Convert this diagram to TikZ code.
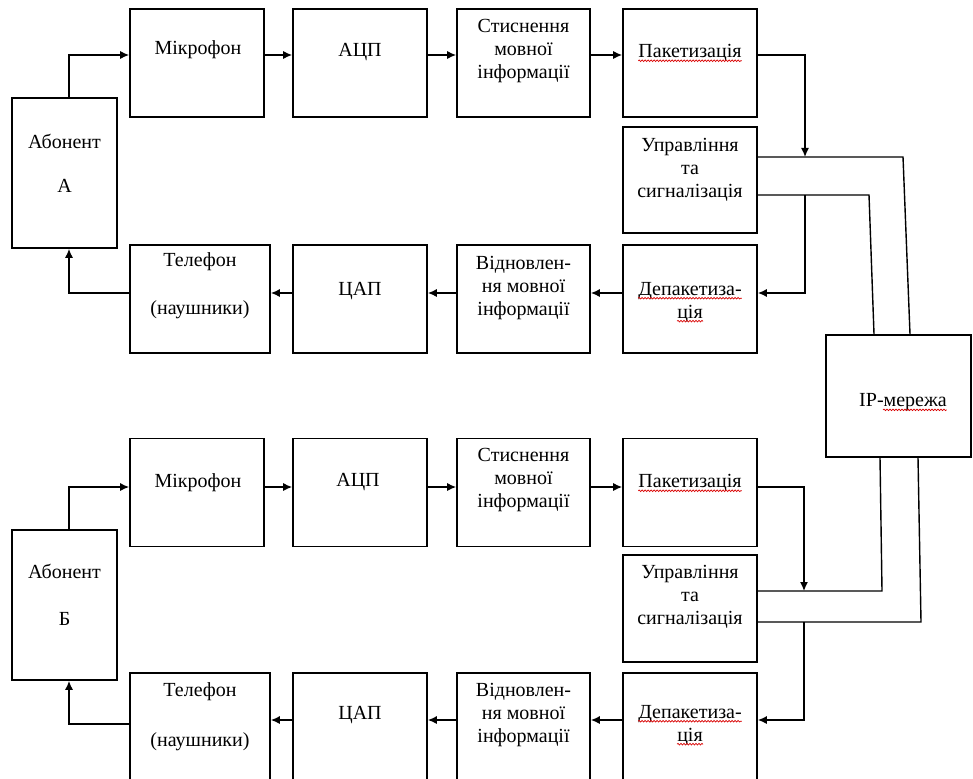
\documentclass[tikz,border=0pt]{standalone}
\usepackage{fontspec}
\setmainfont{Liberation Serif}
\usetikzlibrary{arrows.meta,calc,decorations.pathmorphing}
\tikzset{
  box/.style={draw=black, line width=1.6pt, inner sep=0pt, minimum width=134pt, minimum height=108pt},
  wire/.style={draw=black, line width=1.4pt},
  arr/.style={wire, -{Latex[length=9pt,width=8pt]}},
  lab/.style={font=\fontsize{20}{23}\selectfont, align=center, inner sep=0pt},
  spell/.style={draw=red!85!black, line width=0.7pt, decorate,
    decoration={snake, amplitude=0.8pt, segment length=3pt}},
}
\begin{document}
\begin{tikzpicture}[x=1pt,y=-1pt]
  \useasboundingbox (0,0) rectangle (973,778);

  % IP network
  \node[box, minimum width=145pt, minimum height=122pt] (ipn) at (898.5,396) {};
  \node[lab] (ipnt) at (903,402) {IP-мережа};

  % subscriber A
  \node[box, minimum width=105pt, minimum height=150pt] (abA) at (64.5,173) {};
  \node[box] (micA) at (197,63) {};
  \node[box] (adcA) at (360,63) {};
  \node[box, minimum width=133pt] (cmpA) at (523.5,63) {};
  \node[box] (pktA) at (690,63) {};
  \node[box, minimum height=106pt] (ctlA) at (690,180) {};
  \node[box] (dpkA) at (690,299) {};
  \node[box, minimum width=133pt] (rstA) at (523.5,299) {};
  \node[box] (dacA) at (360,299) {};
  \node[box, minimum width=140pt] (telA) at (200,299) {};

  \node[lab] (abAt) at (64.5,163) {Абонент\\[21pt]А};
  \node[lab] (micAt) at (198,50) {Мікрофон};
  \node[lab] (adcAt) at (360,52) {АЦП};
  \node[lab] (cmpAt) at (523.5,51) {Стиснення\\мовної\\інформації};
  \node[lab] (pktAt) at (690,53) {Пакетизація};
  \node[lab] (ctlAt) at (690,170) {Управління\\та\\сигналізація};
  \node[lab] (dpkAt) at (690,302) {Депакетиза-\\ція};
  \node[lab] (rstAt) at (523.5,288) {Відновлен-\\ня мовної\\інформації};
  \node[lab] (dacAt) at (360,291) {ЦАП};
  \node[lab] (telAt) at (200,286) {Телефон\\[25pt](наушники)};

  \coordinate (jA1) at (805,157);
  \coordinate (jA2) at (805,195);
  \coordinate (bA1) at (903,157);
  \coordinate (bA2) at (869,195);

  \draw[arr] ([xshift=4.5pt]abA.north) |- ([yshift=8pt]micA.west);
  \draw[arr] ([yshift=8pt]micA.east) -- ([yshift=8pt]adcA.west);
  \draw[arr] ([yshift=8pt]adcA.east) -- ([yshift=8pt]cmpA.west);
  \draw[arr] ([yshift=8pt]cmpA.east) -- ([yshift=8pt]pktA.west);
  \draw[arr] ([yshift=8pt]pktA.east) -| (jA1);
  \draw[wire] (ctlA.east |- jA1) -- (bA1) -- ([xshift=11.5pt]ipn.north);
  \draw[wire] (ctlA.east |- jA2) -- (bA2) -- ([xshift=-24.5pt]ipn.north);
  \draw[arr] (jA2) |- ([yshift=6pt]dpkA.east);
  \draw[arr] ([yshift=6pt]dpkA.west) -- ([yshift=6pt]rstA.east);
  \draw[arr] ([yshift=6pt]rstA.west) -- ([yshift=6pt]dacA.east);
  \draw[arr] ([yshift=6pt]dacA.west) -- ([yshift=6pt]telA.east);
  \draw[arr] ([yshift=6pt]telA.west) -| ([xshift=4.5pt]abA.south);

  % subscriber B
  \node[box, minimum width=105pt, minimum height=150pt] (abB) at (64.5,605) {};
  \node[box] (micB) at (197,492.5) {};
  \node[box] (adcB) at (360,492.5) {};
  \node[box, minimum width=133pt] (cmpB) at (523.5,492.5) {};
  \node[box] (pktB) at (690,492.5) {};
  \node[box, minimum height=107pt] (ctlB) at (690,608.5) {};
  \node[box] (dpkB) at (690,727) {};
  \node[box, minimum width=133pt] (rstB) at (523.5,727) {};
  \node[box] (dacB) at (360,727) {};
  \node[box, minimum width=140pt] (telB) at (200,727) {};

  \node[lab] (abBt) at (64.5,595) {Абонент\\[24pt]Б};
  \node[lab] (micBt) at (198,483) {Мікрофон};
  \node[lab] (adcBt) at (358,482) {АЦП};
  \node[lab] (cmpBt) at (523.5,480) {Стиснення\\мовної\\інформації};
  \node[lab] (pktBt) at (690,483) {Пакетизація};
  \node[lab] (ctlBt) at (690,597) {Управління\\та\\сигналізація};
  \node[lab] (dpkBt) at (690,725) {Депакетиза-\\ція};
  \node[lab] (rstBt) at (523.5,715) {Відновлен-\\ня мовної\\інформації};
  \node[lab] (dacBt) at (360,715) {ЦАП};
  \node[lab] (telBt) at (200,717) {Телефон\\[27pt](наушники)};

  \coordinate (jB1) at (804,591);
  \coordinate (jB2) at (804,622);
  \coordinate (bB1) at (882,591);
  \coordinate (bB2) at (921,622);

  \draw[arr] ([xshift=4.5pt]abB.north) |- ([yshift=5.5pt]micB.west);
  \draw[arr] ([yshift=5.5pt]micB.east) -- ([yshift=5.5pt]adcB.west);
  \draw[arr] ([yshift=5.5pt]adcB.east) -- ([yshift=5.5pt]cmpB.west);
  \draw[arr] ([yshift=5.5pt]cmpB.east) -- ([yshift=5.5pt]pktB.west);
  \draw[arr] ([yshift=5.5pt]pktB.east) -| (jB1);
  \draw[wire] (ctlB.east |- jB1) -- (bB1) -- ([xshift=-18.5pt]ipn.south);
  \draw[wire] (ctlB.east |- jB2) -- (bB2) -- ([xshift=19.5pt]ipn.south);
  \draw[arr] (jB2) |- ([yshift=7pt]dpkB.east);
  \draw[arr] ([yshift=7pt]dpkB.west) -- ([yshift=7pt]rstB.east);
  \draw[arr] ([yshift=7pt]rstB.west) -- ([yshift=7pt]dacB.east);
  \draw[arr] ([yshift=7pt]dacB.west) -- ([yshift=7pt]telB.east);
  \draw[arr] ([yshift=3pt]telB.west) -| ([xshift=4.5pt]abB.south);

  % spell-check marks
  \draw[spell] ([yshift=1pt]pktAt.south west) -- ([yshift=1pt]pktAt.south east);
  \draw[spell] ([yshift=1pt]pktBt.south west) -- ([yshift=1pt]pktBt.south east);
  \draw[spell] ([yshift=24pt]dpkAt.south west) -- ([yshift=24pt]dpkAt.south east);
  \draw[spell] ([yshift=1pt,xshift=-13pt]dpkAt.south) -- ([yshift=1pt,xshift=13pt]dpkAt.south);
  \draw[spell] ([yshift=24pt]dpkBt.south west) -- ([yshift=24pt]dpkBt.south east);
  \draw[spell] ([yshift=1pt,xshift=-13pt]dpkBt.south) -- ([yshift=1pt,xshift=13pt]dpkBt.south);
  \draw[spell] ([yshift=1pt,xshift=24pt]ipnt.south west) -- ([yshift=1pt]ipnt.south east);
\end{tikzpicture}
\end{document}
